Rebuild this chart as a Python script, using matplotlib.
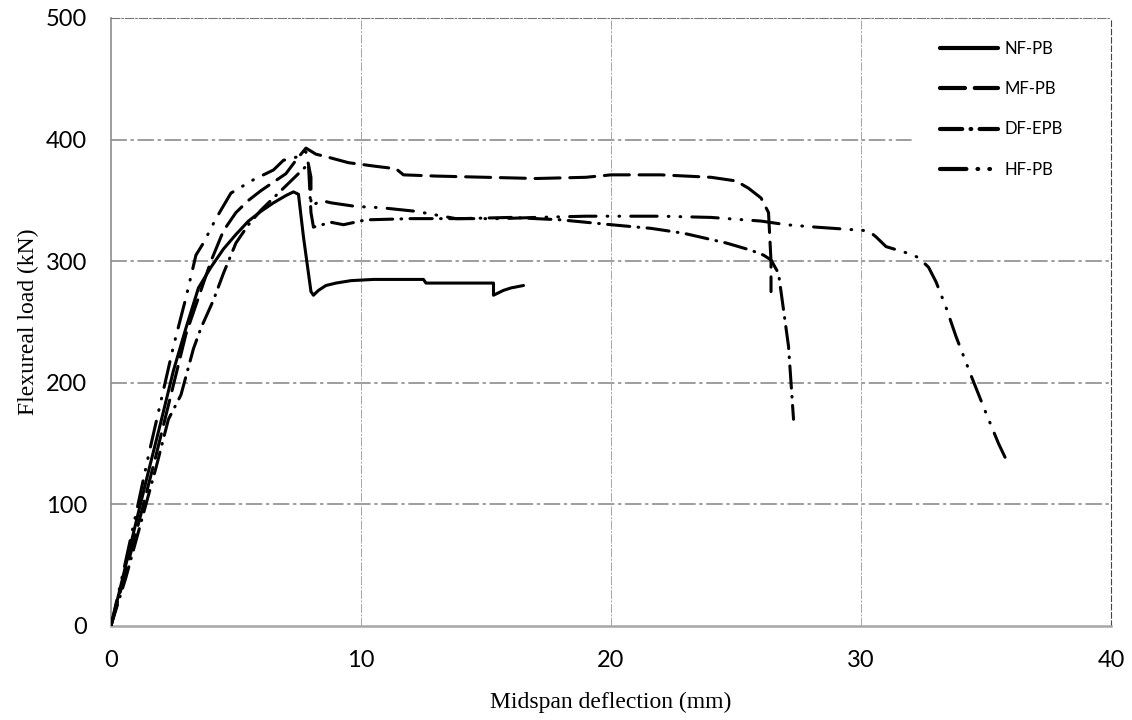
import matplotlib
matplotlib.use("Agg")
import matplotlib.pyplot as plt

# midspan deflection (mm) / flexural load (kN)
nf_x = [0, 0.5, 1.0, 1.5, 2.0, 2.5, 3.0, 3.5, 4.0, 4.5, 5.0, 5.5, 6.0, 6.5, 7.0, 7.3,
        7.5, 7.7, 8.0, 8.1, 8.3, 8.6, 9.0, 9.6, 10.5, 11.5, 12.5, 12.6, 13.5, 14.5,
        15.3, 15.3, 15.7, 16.0, 16.5]
nf_y = [0, 42, 85, 127, 168, 210, 245, 278, 295, 310, 322, 333, 341, 348, 354, 357,
        355, 320, 275, 272, 276, 280, 282, 284, 285, 285, 285, 282, 282, 282,
        282, 272, 276, 278, 280]

mf_x = [0, 0.6, 1.2, 1.8, 2.4, 3.0, 3.5, 4.0, 4.5, 5.0, 5.5, 6.0, 6.5, 7.0, 7.4, 7.8,
        8.2, 8.6, 9.5, 10.6, 11.4, 11.7, 13, 15, 17, 19, 20, 21, 22, 23, 24, 25,
        25.5, 26.0, 26.3, 26.4, 26.4]
mf_y = [0, 45, 92, 140, 190, 240, 270, 300, 325, 340, 350, 358, 365, 372, 383, 393,
        388, 386, 381, 378, 376, 371, 370, 369, 368, 369, 371, 371, 371, 370, 369, 366,
        360, 352, 340, 300, 275]

df_x = [0, 0.6, 1.2, 1.8, 2.3, 2.8, 3.3, 3.6, 4.1, 4.5, 5.0, 5.5, 6.0, 6.5, 7.0, 7.5,
        7.9, 8.0, 8.1, 8.8, 9.3, 10.2, 12, 14, 16, 18, 19, 20, 21.6, 22.9, 24.6, 25.6,
        26.1, 26.4, 26.7, 26.9, 27.1, 27.2, 27.3]
df_y = [0, 40, 85, 130, 170, 190, 228, 245, 268, 290, 315, 330, 342, 352, 362, 372,
        380, 340, 328, 332, 330, 334, 335, 335, 336, 334, 332, 330, 327, 323, 315, 309,
        305, 301, 290, 260, 230, 200, 170]

hf_x = [0, 0.5, 1.0, 1.5, 2.0, 2.5, 3.0, 3.4, 3.7, 4.2, 4.8, 5.7, 6.5, 6.9, 7.5, 7.8,
        8.0, 8.0, 8.4, 8.8, 9.8, 10.8, 12.2, 13, 13.8, 15.6, 17, 19, 20, 22, 24, 26,
        27, 28.2, 29.6, 30.3, 30.6, 31, 31.8, 32.3, 32.7, 33, 33.4, 33.8, 34.4, 35,
        35.5, 35.8]
hf_y = [0, 45, 92, 140, 185, 230, 270, 305, 315, 335, 356, 367, 375, 383, 386, 390,
        369, 345, 350, 348, 345, 344, 341, 338, 335, 335, 336, 337, 337, 337, 336, 333,
        330, 328, 326, 325, 320, 312, 307, 303, 295, 283, 262, 238, 206, 175,
        150, 137]

labels = ["NF-PB", "MF-PB", "DF-EPB", "HF-PB"]
x_ticks = [0, 10, 20, 30, 40]
y_ticks = [0, 100, 200, 300, 400, 500]

plt.rcParams["lines.scale_dashes"] = False
plt.rcParams["lines.solid_capstyle"] = "round"
plt.rcParams["lines.dash_capstyle"] = "round"

fig = plt.figure(figsize=(11.32, 7.2), dpi=100)
ax = fig.add_axes([0.098, 0.1306, 0.8835, 0.8444])

styles = ["-", (0, (18, 7)), (0, (16, 6, 0.5, 6)), (0, (19, 8, 0.5, 8, 0.5, 8))]
series = [(nf_x, nf_y), (mf_x, mf_y), (df_x, df_y), (hf_x, hf_y)]
for (xs, ys), ls, lab in zip(series, styles, labels):
    ax.plot(xs, ys, color="black", lw=2.2, linestyle=ls, label=lab, zorder=3)

ax.set_xlim(0, 40)
ax.set_ylim(0, 500)
ax.set_xticks(x_ticks)
ax.set_yticks(y_ticks)
ax.tick_params(length=0, labelsize=17, pad=17)
for t in ax.get_xticklabels() + ax.get_yticklabels():
    t.set_fontfamily("Lato")

# grid (the 400 line stops where the legend sits)
for yv in y_ticks[1:-1]:
    xmax = 0.8 if yv == 400 else 1
    ax.axhline(yv, xmax=xmax, color="#8c8c8c", lw=1.2,
               linestyle=(0, (11, 3.5, 1.5, 3.5)), zorder=1)
for xv in x_ticks[1:-1]:
    ax.axvline(xv, color="#a6a6a6", lw=0.7, linestyle=(0, (6, 1.5, 1, 1.5)), zorder=1)

ax.spines["left"].set_color("#8c8c8c")
ax.spines["left"].set_linewidth(1.2)
ax.spines["bottom"].set_color("#a6a6a6")
ax.spines["bottom"].set_linewidth(1.8)
ax.spines["top"].set_color("#777777")
ax.spines["top"].set_linewidth(0.8)
ax.spines["top"].set_linestyle((0, (6, 1.5, 1, 1.5)))
ax.spines["right"].set_color("#444444")
ax.spines["right"].set_linewidth(0.8)
ax.spines["right"].set_linestyle((0, (4, 2)))

ax.set_xlabel("Midspan deflection (mm)", fontsize=17, family="Liberation Serif", labelpad=15)
ax.set_ylabel("Flexureal load (kN)", fontsize=17, family="Liberation Serif", labelpad=5)

leg = ax.legend(loc="upper left", bbox_to_anchor=(0.829, 0.962), borderaxespad=0,
                frameon=False, handlelength=3.5, handletextpad=0.35,
                labelspacing=1.45, borderpad=0,
                prop={"family": "Lato", "size": 12})
for h in leg.get_lines():
    h.set_linewidth(3)

plt.savefig("out.png", dpi=100)
